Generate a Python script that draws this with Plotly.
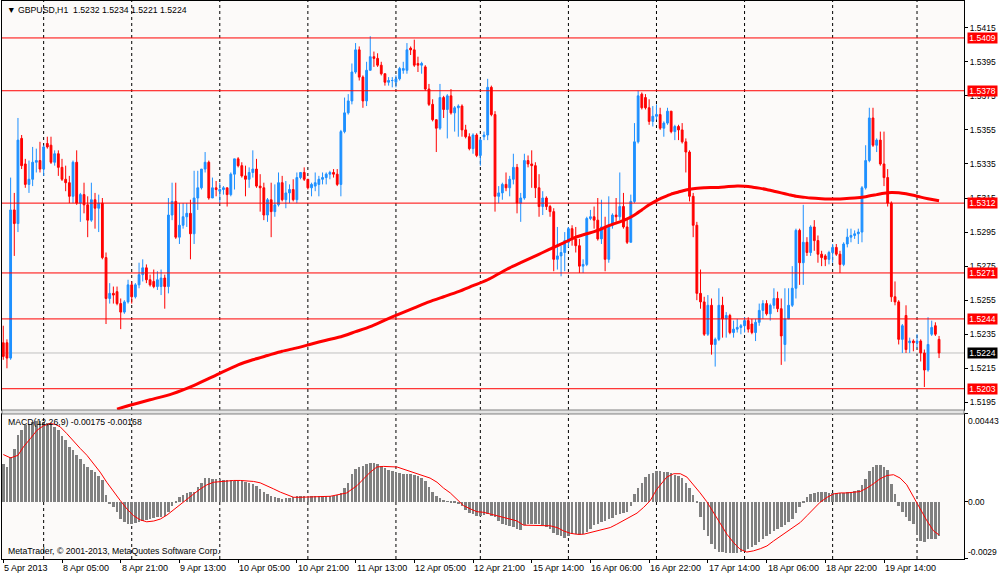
import plotly.graph_objects as go

# GBPUSD H1 candles, values in pips above 1.5000 (bar 0 = 5 Apr 2013 13:00)
opens = [
    230, 230, 221, 308, 300, 350, 335, 323, 326, 336,
    337, 332, 347, 346, 336, 341, 333, 326, 324, 316,
    336, 312, 317, 311, 302, 314, 309, 312, 280, 256,
    259, 260, 253, 248, 254, 264, 257, 264, 270, 274,
    267, 266, 263, 263, 268, 263, 305, 313, 292, 299,
    304, 306, 294, 315, 321, 332, 336, 315, 321, 319,
    320, 321, 317, 329, 338, 334, 328, 326, 330, 332,
    322, 321, 305, 314, 307, 311, 324, 314, 318, 320,
    314, 327, 330, 326, 321, 322, 323, 326, 327, 329,
    330, 329, 323, 354, 365, 372, 389, 402, 386, 372,
    390, 398, 397, 393, 388, 383, 384, 383, 385, 390,
    390, 403, 402, 394, 393, 392, 379, 370, 361, 356,
    374, 367, 375, 365, 368, 369, 355, 351, 344, 352,
    340, 351, 352, 380, 364, 316, 318, 323, 321, 326,
    333, 312, 315, 337, 335, 334, 321, 310, 315, 310,
    307, 279, 281, 283, 289, 297, 291, 287, 275, 276,
    303, 304, 302, 291, 298, 279, 299, 305, 304, 310,
    298, 289, 313, 348, 376, 374, 368, 360, 363, 364,
    356, 359, 366, 354, 357, 355, 348, 342, 316, 299,
    259, 254, 235, 252, 229, 232, 252, 244, 246, 236,
    238, 239, 240, 243, 241, 236, 242, 249, 253, 247,
    252, 256, 250, 229, 244, 252, 262, 296, 277, 289,
    283, 298, 290, 282, 281, 279, 283, 286, 282, 276,
    288, 292, 293, 294, 295, 321, 337, 362, 346, 349,
    335, 327, 312, 257, 254, 232, 246, 230, 231, 230,
    231, 224, 214, 235, 240, 232,
]
highs = [
    240, 232, 327, 318, 362, 352, 338, 337, 345, 344,
    348, 346, 351, 351, 343, 343, 338, 334, 328, 337,
    343, 318, 324, 316, 324, 318, 317, 315, 283, 265,
    263, 263, 256, 255, 267, 266, 265, 277, 279, 276,
    270, 273, 272, 273, 270, 315, 324, 324, 312, 312,
    312, 314, 331, 331, 332, 342, 337, 327, 325, 324,
    322, 321, 330, 338, 339, 336, 334, 333, 343, 338,
    329, 324, 315, 324, 323, 330, 328, 325, 323, 326,
    330, 330, 333, 326, 324, 330, 328, 330, 330, 331,
    332, 332, 355, 374, 376, 394, 406, 404, 387, 395,
    410, 401, 400, 395, 388, 386, 386, 387, 392, 395,
    406, 404, 408, 398, 395, 393, 382, 373, 361, 382,
    375, 376, 379, 369, 370, 370, 358, 353, 353, 353,
    350, 354, 385, 381, 366, 322, 324, 330, 328, 341,
    335, 318, 341, 340, 343, 336, 329, 319, 316, 311,
    309, 298, 287, 295, 298, 299, 298, 291, 279, 304,
    308, 310, 315, 314, 304, 316, 306, 315, 330, 318,
    303, 317, 359, 378, 377, 376, 373, 369, 370, 368,
    360, 368, 366, 358, 358, 359, 350, 343, 318, 301,
    273, 257, 258, 256, 233, 262, 257, 248, 247, 243,
    244, 241, 245, 245, 244, 244, 253, 255, 255, 253,
    262, 260, 256, 262, 262, 275, 297, 297, 311, 292,
    299, 302, 293, 284, 282, 284, 288, 288, 284, 289,
    297, 297, 296, 297, 322, 346, 368, 368, 350, 354,
    354, 332, 313, 266, 255, 241, 252, 233, 232, 235,
    232, 226, 245, 243, 242, 234,
]
lows = [
    220, 215, 220, 281, 295, 332, 321, 318, 322, 330,
    330, 328, 344, 335, 334, 328, 325, 319, 312, 312,
    311, 301, 306, 292, 301, 297, 295, 279, 241, 253,
    253, 252, 238, 247, 253, 253, 256, 262, 266, 265,
    263, 262, 261, 258, 250, 259, 302, 291, 288, 297,
    298, 279, 288, 308, 320, 330, 314, 315, 316, 312,
    317, 310, 316, 320, 333, 327, 316, 321, 327, 321,
    307, 302, 301, 292, 304, 310, 313, 309, 312, 313,
    312, 326, 325, 320, 316, 319, 316, 323, 323, 326,
    327, 322, 316, 353, 364, 370, 388, 384, 368, 369,
    390, 392, 392, 387, 381, 381, 380, 380, 384, 388,
    388, 399, 392, 389, 388, 378, 369, 360, 342, 355,
    362, 350, 364, 354, 351, 351, 350, 343, 341, 339,
    334, 349, 349, 363, 307, 312, 314, 319, 316, 323,
    306, 301, 314, 333, 321, 315, 304, 305, 308, 304,
    272, 273, 269, 272, 286, 287, 283, 271, 271, 275,
    302, 297, 290, 288, 272, 277, 297, 301, 302, 297,
    288, 289, 312, 347, 367, 367, 358, 357, 361, 355,
    351, 358, 353, 349, 349, 347, 330, 313, 292, 255,
    250, 234, 234, 223, 216, 231, 233, 233, 235, 233,
    236, 235, 236, 236, 235, 231, 240, 244, 246, 243,
    250, 248, 217, 219, 244, 251, 256, 264, 264, 281,
    281, 284, 277, 275, 275, 276, 277, 281, 271, 275,
    286, 289, 291, 288, 289, 320, 336, 345, 342, 334,
    322, 310, 254, 252, 229, 224, 224, 224, 225, 227,
    219, 204, 213, 234, 234, 221,
]
closes = [
    222, 221, 308, 300, 349, 334, 323, 326, 336, 337,
    332, 345, 345, 336, 341, 333, 326, 324, 316, 336,
    312, 317, 311, 302, 314, 309, 312, 280, 256, 259,
    258, 253, 248, 254, 264, 257, 264, 270, 274, 267,
    264, 263, 267, 268, 263, 305, 313, 292, 299, 304,
    306, 294, 315, 321, 332, 336, 315, 321, 320, 320,
    321, 317, 329, 338, 334, 328, 326, 330, 332, 322,
    321, 305, 314, 307, 311, 324, 314, 318, 320, 314,
    327, 330, 326, 321, 323, 324, 326, 327, 329, 330,
    329, 323, 354, 365, 372, 389, 402, 386, 372, 390,
    398, 397, 393, 388, 383, 384, 384, 385, 391, 391,
    402, 402, 393, 393, 394, 379, 370, 361, 356, 374,
    367, 375, 365, 368, 369, 355, 351, 344, 352, 340,
    349, 352, 380, 364, 316, 318, 323, 321, 326, 333,
    312, 315, 337, 335, 334, 321, 310, 315, 310, 307,
    279, 281, 283, 290, 297, 291, 287, 275, 276, 303,
    304, 302, 291, 298, 279, 299, 305, 304, 310, 298,
    289, 313, 348, 375, 368, 368, 360, 363, 364, 356,
    359, 366, 354, 357, 355, 348, 342, 316, 299, 259,
    254, 235, 252, 229, 232, 252, 244, 246, 236, 238,
    239, 240, 243, 238, 236, 242, 249, 253, 247, 252,
    256, 250, 234, 244, 252, 262, 296, 277, 289, 283,
    298, 290, 282, 280, 279, 283, 286, 282, 276, 288,
    292, 293, 294, 295, 321, 337, 362, 346, 349, 335,
    327, 312, 257, 254, 232, 240, 226, 231, 230, 231,
    224, 214, 229, 239, 235, 224,
]

# moving average (thick red line), read at selected bars
ma_bars = [31, 34, 40, 46, 52, 58, 64, 68, 72, 76, 80, 84, 88, 92, 96, 100,
           104, 108, 112, 116, 120, 124, 128, 132, 135, 138, 141, 144, 147,
           150, 153, 156, 159, 162, 165, 168, 170, 172, 174, 176, 178, 180,
           182, 184, 186, 188, 191, 194, 197, 200, 202, 204, 206, 208, 210,
           212, 214, 216, 218, 220, 223, 226, 229, 232, 235, 238, 240, 242,
           244, 246, 248, 250, 252, 255]
ma_pips = [191, 193, 196.5, 200, 205, 211, 217, 220, 222.5, 225, 227, 229.3,
           231.5, 233.5, 236.5, 239.5, 243.3, 247, 250.5, 254, 257, 260,
           263.5, 267, 270.5, 274, 277, 280, 283, 286, 289, 292, 294, 296,
           298.8, 301, 302.7, 305, 308, 311, 313.5, 315.5, 317.3, 318.5,
           319.7, 320.5, 321, 321.2, 321.6, 322, 321.9, 321.5, 320.8, 320,
           319, 318, 317, 316, 315.5, 315, 314.6, 314.4, 314.6, 315, 315.8,
           317, 317.8, 318.3, 318.1, 317.5, 316.6, 315.5, 314.6, 313.4]

# MACD(12,26,9) main histogram, in units of 0.00001
macd_hist = [
    192, 175, 226, 268, 336, 361, 387, 395, 404, 407,
    407, 404, 400, 395, 378, 361, 333, 311, 277, 260,
    234, 217, 192, 175, 158, 149, 132, 110, 35, -12,
    -29, -54, -88, -105, -114, -115, -109, -102, -97, -92,
    -88, -83, -80, -76, -71, -51, -20, -7, 22, 34,
    44, 48, 51, 73, 95, 119, 119, 115, 115, 112,
    109, 107, 107, 105, 102, 102, 98, 95, 90, 81,
    64, 51, 39, 31, 22, 17, 14, 17, 20, 24,
    27, 29, 29, 30, 31, 31, 30, 31, 30, 31,
    29, 34, 44, 68, 95, 141, 166, 175, 180, 188,
    195, 197, 192, 180, 170, 161, 153, 146, 143, 141,
    141, 139, 136, 131, 120, 102, 75, 48, 27, 17,
    8, 2, -3, -7, -12, -20, -41, -58, -63, -71,
    -75, -66, -63, -71, -80, -97, -114, -119, -122, -127,
    -136, -143, -117, -114, -114, -114, -115, -119, -126, -139,
    -160, -170, -176, -182, -173, -166, -165, -170, -166, -153,
    -136, -119, -112, -105, -97, -90, -81, -68, -63, -59,
    -51, -20, 39, 68, 95, 124, 141, 146, 156, 154,
    149, 148, 143, 137, 132, 119, 95, 68, 34, -7,
    -80, -143, -176, -216, -241, -253, -256, -258, -261, -261,
    -258, -253, -249, -241, -227, -221, -204, -187, -173, -165,
    -148, -136, -126, -119, -105, -88, -58, -29, -3, 22,
    39, 44, 51, 51, 48, 44, 42, 44, 44, 44,
    48, 51, 56, 61, 85, 112, 156, 175, 187, 183,
    175, 158, 90, 39, -20, -54, -80, -97, -114, -165,
    -199, -204, -190, -187, -187, -175,
]

# MACD signal line, read at selected bars (units of 0.00001)
sig_bars = [0, 2, 4, 5.5, 7.4, 9.2, 11, 12.8, 14.2, 15.5, 17.3, 19.2, 21,
            22.8, 24.6, 26.4, 28.2, 30.1, 31.9, 33.7, 35.5, 37.3, 39.1, 41,
            42.8, 44.6, 46.4, 48.2, 50, 51.9, 53.7, 55.5, 57.3, 59.1, 60.9,
            62.8, 64.6, 66.4, 68.2, 70, 71.8, 73.7, 75.5, 77.3, 79.1, 80.9,
            84.6, 89.1, 93.6, 96.4, 98.2, 100, 101.8, 103.6, 107.3, 110.9,
            114.5, 116.3, 118.2, 120, 121.8, 123.6, 125.4, 127.3, 129.1,
            130.9, 132.7, 134.5, 136.3, 139.9, 141.8, 145.4, 149, 150.9,
            152.7, 154.5, 156.3, 158.1, 159.9, 161.7, 163.6, 165.4, 167.2,
            169, 170.8, 172.7, 174.5, 176.3, 178, 179, 180.8, 182.7, 184.5,
            186.3, 188.1, 189.9, 191.7, 193.5, 195.4, 197.2, 199, 200.8,
            202.6, 204.4, 206.3, 208.1, 209.9, 211.7, 213.5, 215.4, 217.2,
            219, 220.8, 222.6, 224.5, 226.3, 228.1, 229.9, 233.5, 235.3,
            237.1, 238.9, 240.8, 242.6, 244.4, 246.2, 248.1, 249.9, 251.7,
            253.5, 255]
sig_vals = [238, 221, 234, 277, 319, 361, 384, 395, 390, 378, 344, 302, 268,
            234, 192, 149, 98, 48, 5, -37, -71, -92, -102, -98, -88, -68,
            -41, -12, 14, 39, 64, 85, 98, 102, 105, 107, 107, 105, 102, 95,
            81, 64, 48, 34, 22, 22, 24, 27, 44, 81, 115, 149, 175, 178, 175,
            153, 132, 119, 98, 68, 44, 14, -20, -37, -51, -54, -63, -71, -80,
            -97, -119, -119, -122, -131, -148, -160, -165, -165, -156, -148,
            -139, -131, -114, -97, -80, -58, -29, 5, 60, 85, 124, 141, 141,
            124, 85, 44, 0, -54, -114, -165, -207, -241, -255, -249, -238,
            -224, -199, -176, -156, -131, -105, -71, -37, -3, 22, 39, 44, 44,
            51, 68, 90, 115, 132, 136, 119, 85, 22, -37, -97, -148, -168]

# horizontal price levels drawn on the chart
levels = [1.5409, 1.5378, 1.5312, 1.5271, 1.5244, 1.5203]
price_ticks = [1.5195, 1.5215, 1.5235, 1.5255, 1.5275, 1.5295, 1.5315,
               1.5335, 1.5355, 1.5375, 1.5395, 1.5415]

# day separators (bar index of first bar of each day)
day_starts = [11, 35, 59, 83, 107, 130, 154, 178, 202, 226, 249]

# time axis labels
label_bars = [0, 16, 32, 48, 64, 80, 96, 112, 128, 144, 160, 176, 192, 208, 224, 240]
label_text = ['5 Apr 2013', '8 Apr 05:00', '8 Apr 21:00', '9 Apr 13:00',
              '10 Apr 05:00', '10 Apr 21:00', '11 Apr 13:00', '12 Apr 05:00',
              '12 Apr 21:00', '15 Apr 14:00', '16 Apr 06:00', '16 Apr 22:00',
              '17 Apr 14:00', '18 Apr 06:00', '18 Apr 22:00', '19 Apr 14:00']


def px(p):
    return round(1.5 + p / 10000, 5)


bars = list(range(len(closes)))
FONT = 'Liberation Sans'
BLUE = '#1E90FF'
RED = '#FF0000'
SIDE = 8.5  # font size of the right-hand price scale

fig = go.Figure()

fig.add_trace(go.Candlestick(
    x=bars,
    open=[px(v) for v in opens], high=[px(v) for v in highs],
    low=[px(v) for v in lows], close=[px(v) for v in closes],
    increasing=dict(line=dict(color=BLUE, width=1), fillcolor=BLUE),
    decreasing=dict(line=dict(color=RED, width=1), fillcolor=RED),
    whiskerwidth=0, showlegend=False, hoverinfo='skip',
    xaxis='x', yaxis='y'
))

fig.add_trace(go.Scatter(
    x=ma_bars, y=[px(v) for v in ma_pips], mode='lines',
    line=dict(color=RED, width=3, shape='spline', smoothing=0.6),
    showlegend=False, hoverinfo='skip', xaxis='x', yaxis='y'
))

fig.add_trace(go.Bar(
    x=bars, y=[v / 100000 for v in macd_hist], width=0.68,
    marker=dict(color='#808080', line=dict(width=0)),
    showlegend=False, hoverinfo='skip', xaxis='x2', yaxis='y2'
))

fig.add_trace(go.Scatter(
    x=sig_bars, y=[v / 100000 for v in sig_vals], mode='lines',
    line=dict(color=RED, width=1), showlegend=False, hoverinfo='skip',
    xaxis='x2', yaxis='y2'
))

x_range = [-0.35, 261.8]
PRICE_BOTTOM = 0.267
MACD_TOP = 0.2599

shapes = []
for d in day_starts:
    for yr in ['y domain', 'y2 domain']:
        shapes.append(dict(type='line', xref='x' if yr == 'y domain' else 'x2',
                           yref=yr, x0=d, x1=d, y0=0, y1=1, layer='below',
                           line=dict(color='#000000', width=1, dash='3px,3px')))
shapes.append(dict(type='line', xref='x domain', yref='y', x0=0, x1=1,
                   y0=px(closes[-1]), y1=px(closes[-1]), layer='below',
                   line=dict(color='#C0C0C0', width=1)))
for lv in levels:
    shapes.append(dict(type='line', xref='x domain', yref='y', x0=0, x1=1,
                       y0=lv, y1=lv, layer='above', line=dict(color=RED, width=1)))
# panel separator
shapes.append(dict(type='rect', xref='x domain', yref='paper', x0=0, x1=1,
                   y0=MACD_TOP, y1=PRICE_BOTTOM, fillcolor='#E4E4E4',
                   line=dict(color='#808080', width=1), layer='above'))

annotations = []
last = len(closes) - 1
annotations.append(dict(
    text='\u25bc GBPUSD,H1\u00a0\u00a0%.4f %.4f %.4f %.4f' % (
        px(opens[last]), px(highs[last]), px(lows[last]), px(closes[last])),
    xref='paper', yref='paper', x=0, y=1, xshift=3, yshift=-9,
    xanchor='left', yanchor='middle', showarrow=False,
    font=dict(family=FONT, size=8.7, color='#000000')))
annotations.append(dict(
    text='MACD(12,26,9) %.5f %.5f' % (macd_hist[-1] / 100000, sig_vals[-1] / 100000),
    xref='paper', yref='paper', x=0, y=MACD_TOP, xshift=4, yshift=-8,
    xanchor='left', yanchor='middle', showarrow=False,
    font=dict(family=FONT, size=8.7, color='#000000')))
annotations.append(dict(
    text='MetaTrader, \u00a9 2001-2013, MetaQuotes Software Corp.',
    xref='paper', yref='paper', x=0, y=0, xshift=4, yshift=8,
    xanchor='left', yanchor='middle', showarrow=False,
    font=dict(family=FONT, size=8.7, color='#000000')))
for b, t in zip(label_bars, label_text):
    annotations.append(dict(
        text=t, xref='x2', yref='paper', x=b, y=0, yshift=-9, xshift=-1,
        xanchor='left', yanchor='middle', showarrow=False,
        font=dict(family=FONT, size=9, color='#000000')))
for lv in levels:
    annotations.append(dict(
        text='%.4f' % lv, xref='paper', yref='y', x=1, y=lv, xshift=3,
        xanchor='left', yanchor='middle', showarrow=False, width=29,
        bgcolor=RED, borderpad=0, font=dict(family=FONT, size=SIDE, color='#FFFFFF')))
annotations.append(dict(
    text='%.4f' % px(closes[-1]), xref='paper', yref='y', x=1, y=px(closes[-1]),
    xshift=3, xanchor='left', yanchor='middle', showarrow=False, width=29,
    bgcolor='#000000', borderpad=0, font=dict(family=FONT, size=SIDE, color='#FFFFFF')))
macd_max, macd_min = 0.00443, -0.0029
annotations.append(dict(text='0.00443', xref='paper', yref='y2', x=1, y=macd_max,
                        xshift=2, xanchor='left', yanchor='top', showarrow=False,
                        font=dict(family=FONT, size=SIDE, color='#000000')))
annotations.append(dict(text='0.00', xref='paper', yref='y2', x=1, y=0,
                        xshift=2, xanchor='left', yanchor='middle', showarrow=False,
                        font=dict(family=FONT, size=SIDE, color='#000000')))
annotations.append(dict(text='-0.0029', xref='paper', yref='y2', x=1, y=macd_min,
                        xshift=2, xanchor='left', yanchor='bottom', showarrow=False,
                        font=dict(family=FONT, size=SIDE, color='#000000')))

fig.update_layout(
    width=1000, height=576,
    margin=dict(l=2, r=36, t=1, b=17),
    paper_bgcolor='#FFFFFF', plot_bgcolor='#FCFAF9',
    showlegend=False, bargap=0,
    xaxis=dict(domain=[0, 1], anchor='y', range=x_range, showticklabels=False,
               showgrid=False, zeroline=False, showline=True, mirror=True,
               linecolor='#000000', linewidth=1, ticks='',
               rangeslider=dict(visible=False)),
    yaxis=dict(domain=[PRICE_BOTTOM, 1], anchor='x', side='right',
               range=[1.51905, 1.54307], tickvals=price_ticks,
               tickformat='.4f', ticks='outside', ticklen=3, tickcolor='#000000',
               showgrid=False, zeroline=False, showline=True, mirror=True,
               linecolor='#000000', linewidth=1,
               tickfont=dict(family=FONT, size=SIDE, color='#000000')),
    xaxis2=dict(domain=[0, 1], anchor='y2', range=x_range, tickvals=label_bars,
                showticklabels=False, ticks='outside', ticklen=3, tickcolor='#000000',
                showgrid=False, zeroline=False, showline=True, mirror=True,
                linecolor='#000000', linewidth=1),
    yaxis2=dict(domain=[0, MACD_TOP], anchor='x2', side='right',
                range=[macd_min, macd_max], tickvals=[macd_max, 0, macd_min],
                showticklabels=False, ticks='outside', ticklen=3, tickcolor='#000000',
                showgrid=False, zeroline=False, showline=True, mirror=True,
                linecolor='#000000', linewidth=1),
    shapes=shapes,
    annotations=annotations,
)

fig.write_html('out.html', config={'displayModeBar': False}, post_script=(
    "document.body.style.margin='0';"
    "document.body.style.overflow='hidden';"))
